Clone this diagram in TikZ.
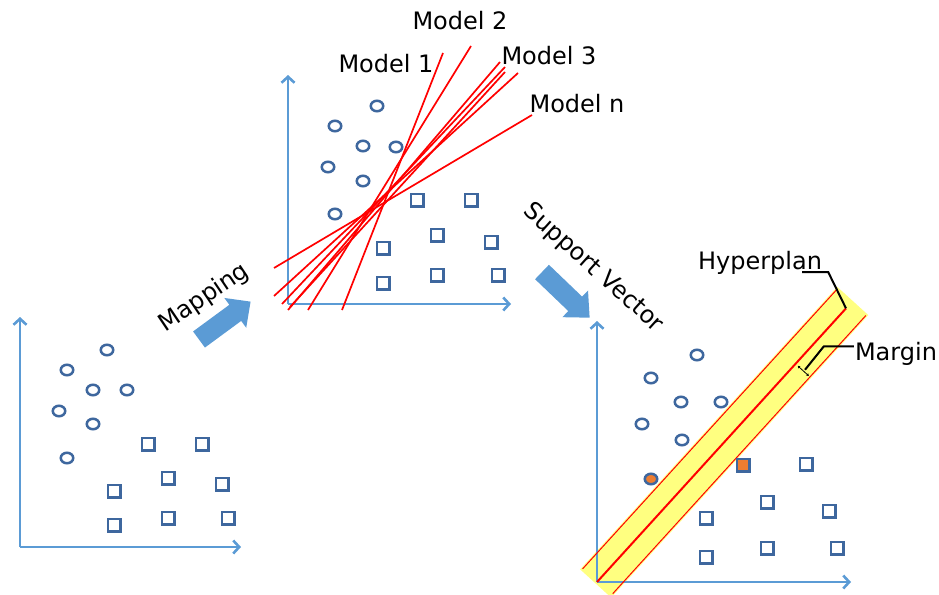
\documentclass[tikz,border=0pt]{standalone}
\usepackage{fontspec}
\setmainfont{DejaVu Sans}
\usetikzlibrary{arrows.meta,shapes.geometric}
\definecolor{axblue}{RGB}{91,155,213}
\definecolor{ptblue}{RGB}{62,103,158}
\definecolor{svorange}{RGB}{237,125,49}
\definecolor{bandyellow}{RGB}{255,255,128}
\definecolor{mred}{RGB}{255,0,0}
\begin{document}
\begin{tikzpicture}[x=1pt,y=-1pt,
  axis/.style={draw=axblue, line width=2.6pt, -{Straight Barb[length=6pt,width=13pt]}},
  pc/.style={ellipse, draw=ptblue, line width=2.5pt, minimum width=12.5pt, minimum height=10.5pt, inner sep=0pt},
  ps/.style={rectangle, draw=ptblue, line width=2.5pt, minimum size=12.5pt, inner sep=0pt},
  lbl/.style={font=\fontsize{24}{28}\selectfont, inner sep=0pt, anchor=base},
  rlbl/.style={font=\fontsize{24}{28}\selectfont, inner sep=0pt},
  model/.style={draw=mred, line width=1.7pt},
  bigarrow/.style={fill=axblue},
  leader/.style={draw=black, line width=2pt}
]
\useasboundingbox (0,0) rectangle (939,594);

% ---------- left chart ----------
\coordinate (lo) at (20,547);
\coordinate (ly) at (20,317);
\coordinate (lx) at (241,547);
\draw[axis] (lo) -- (ly);
\draw[axis] (lo) -- (lx);
\foreach \x/\y [count=\i] in {107/350,67/370,93/390,127/390,59/411,93/424,67/458}
  \node[pc] (lc\i) at (\x,\y) {};
\foreach \x/\y [count=\i] in {148/444,202/444,168/478,222/484,114/491,114/525,168/518,228/518}
  \node[ps] (ls\i) at (\x,\y) {};

% ---------- Mapping ----------
\node[rlbl, rotate=34] (maptxt) at (204,298) {Mapping};
\begin{scope}[shift={(199,339.5)}, rotate=36.3]
  \fill[bigarrow] (0,-10) -- (45,-10) -- (45,-18.5) -- (64,0) -- (45,18.5) -- (45,10) -- (0,10) -- cycle;
\end{scope}

% ---------- middle chart ----------
\coordinate (mo) at (288,304);
\coordinate (my) at (288,75);
\coordinate (mx) at (511,304);
\draw[axis] (mo) -- (my);
\draw[axis] (mo) -- (mx);
\foreach \x/\y [count=\i] in {377/106,335/126,363/146,396/147,328/167,363/181,335/214}
  \node[pc] (mc\i) at (\x,\y) {};
\foreach \x/\y [count=\i] in {417/200,471/200,437/235,491/242,383/248,383/283,437/275,498/275}
  \node[ps] (ms\i) at (\x,\y) {};
\foreach \ax/\ay/\bx/\by [count=\i] in {443/53/342/310, 471/46/308/310, 500/62/288/310, 505/67/282/304, 505/72/290/307, 518/73/274/296, 532/115/274/268}{
  \coordinate (mt\i) at (\ax,\ay);
  \coordinate (mb\i) at (\bx,\by);
  \draw[model] (mt\i) -- (mb\i);
}
\node[lbl] (mod2) at (460,30) {Model 2};
\node[lbl] (mod1) at (386,73) {Model 1};
\node[lbl] (mod3) at (549,65) {Model 3};
\node[lbl] (modn) at (577,112) {Model n};

% ---------- Support Vector ----------
\node[rlbl, rotate=-42] (svtxt) at (593,268) {Support Vector};
\begin{scope}[shift={(542,272)}, rotate=-43.8]
  \fill[bigarrow] (0,-10) -- (46,-10) -- (46,-18.5) -- (66,0) -- (46,18.5) -- (46,10) -- (0,10) -- cycle;
\end{scope}

% ---------- right chart ----------
\coordinate (ro) at (597,582);
\coordinate (ry) at (597,321);
\coordinate (rx) at (851,582);
\begin{scope}[shift={(ro)}, rotate=47.7]
  \fill[bandyellow] (-2,-21) rectangle (380,21);
\end{scope}
\draw[axis] (ro) -- (ry);
\draw[axis] (ro) -- (rx);
\begin{scope}[shift={(ro)}, rotate=47.7]
  \draw[mred, line width=1pt] (0,-19.5) -- (378,-19.5);
  \draw[mred, line width=1pt] (2,19.5) -- (378,19.5);
  \draw[mred, line width=2pt] (0,0) -- (370,0);
  \coordinate (hypEnd) at (370,0);
  \coordinate (mgA) at (295,3);
  \coordinate (mgB) at (295,18);
  \coordinate (marEnd) at (297,11);
  \draw[line width=0.8pt, {Stealth[length=2.5pt,width=3pt]}-{Stealth[length=2.5pt,width=3pt]}] (mgA) -- (mgB);
\end{scope}
\foreach \x/\y [count=\i] in {697/355,651/378,681/402,721/402,642/424,682/440}
  \node[pc] (rc\i) at (\x,\y) {};
\node[pc, fill=svorange] (rc7) at (651,479) {};
\node[ps, fill=svorange] (rs1) at (743,465) {};
\foreach \x/\y [count=\i from 2] in {806/464,767/502,829/511,706/518,706/557,767/548,837/548}
  \node[ps] (rs\i) at (\x,\y) {};

\node[lbl] (hyp) at (760,269) {Hyperplan};
\node[lbl] (mar) at (896,360) {Margin};
\draw[leader] ([shift={(-20,3)}]hyp.base east) -- ([shift={(6,3)}]hyp.base east) -- (hypEnd);
\draw[leader] ([shift={(-1,-7)}]mar.west) -- ([shift={(-31,-7)}]mar.west) -- (marEnd);
\end{tikzpicture}
\end{document}
